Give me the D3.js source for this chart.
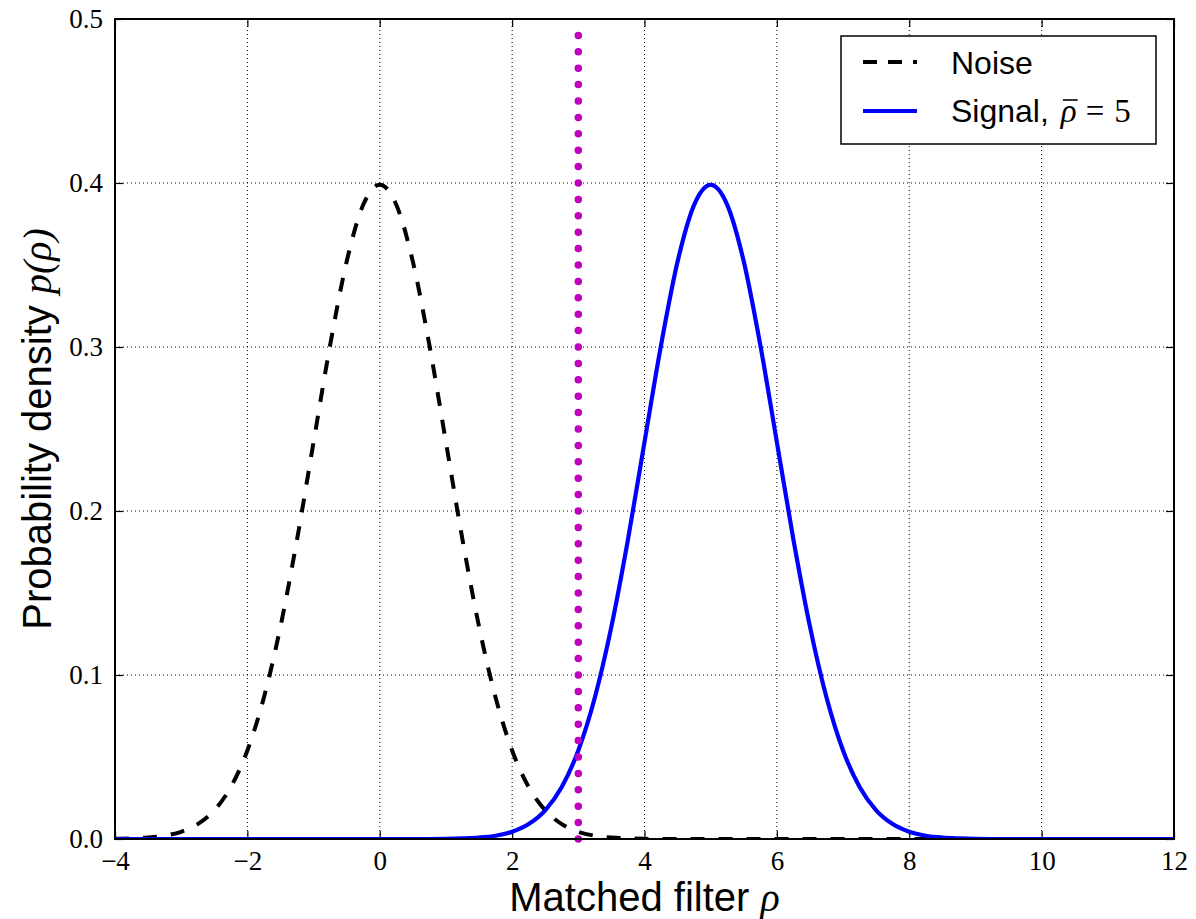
<!DOCTYPE html>
<html>
<head>
<meta charset="utf-8">
<script src="https://cdn.jsdelivr.net/npm/d3@7"></script>
<style>
  html, body { margin: 0; padding: 0; background: #fff; }
  svg { display: block; }
</style>
</head>
<body>
<svg id="chart" width="1196" height="919"></svg>
<script>
// Sample positions along the matched-filter axis (step 0.25)
const rhoValues = d3.range(65).map(i => -4 + i * 0.25);

// Noise-only density, read at each sample position
const noiseDensity = [
  0.0001, 0.0004, 0.0009, 0.0020, 0.0044, 0.0091, 0.0175, 0.0317,
  0.0540, 0.0863, 0.1295, 0.1826, 0.2420, 0.3011, 0.3521, 0.3867,
  0.3989,
  0.3867, 0.3521, 0.3011, 0.2420, 0.1826, 0.1295, 0.0863, 0.0540,
  0.0317, 0.0175, 0.0091, 0.0044, 0.0020, 0.0009, 0.0004, 0.0001,
  0, 0, 0, 0, 0, 0, 0, 0, 0, 0, 0, 0, 0, 0, 0, 0,
  0, 0, 0, 0, 0, 0, 0, 0, 0, 0, 0, 0, 0, 0, 0, 0
];

// Signal density (mean SNR 5), read at each sample position
const signalDensity = [
  0, 0, 0, 0, 0, 0, 0, 0, 0, 0, 0, 0, 0, 0, 0, 0, 0, 0, 0, 0,
  0.0001, 0.0004, 0.0009, 0.0020, 0.0044, 0.0091, 0.0175, 0.0317,
  0.0540, 0.0863, 0.1295, 0.1826, 0.2420, 0.3011, 0.3521, 0.3867,
  0.3989,
  0.3867, 0.3521, 0.3011, 0.2420, 0.1826, 0.1295, 0.0863, 0.0540,
  0.0317, 0.0175, 0.0091, 0.0044, 0.0020, 0.0009, 0.0004, 0.0001,
  0, 0, 0, 0, 0, 0, 0, 0, 0, 0, 0, 0
];

// Detection threshold marker
const thresholdRho = 3;
const thresholdTop = 0.49;

const xTicks = [-4, -2, 0, 2, 4, 6, 8, 10, 12];
const yTicks = [0.0, 0.1, 0.2, 0.3, 0.4, 0.5];

const svg = d3.select("#chart");
const margin = { left: 115, right: 22, top: 19, bottom: 80 };
const W = 1196, H = 919;
const x = d3.scaleLinear().domain([-4, 12]).range([margin.left, W - margin.right]);
const y = d3.scaleLinear().domain([0, 0.5]).range([H - margin.bottom, margin.top]);

const tickFont = "'Liberation Serif', 'DejaVu Serif', serif";
const sansFont = "'Liberation Sans', Arial, Helvetica, sans-serif";
const fmtX = d => (d < 0 ? "\u2212" + Math.abs(d) : String(d));
const fmtY = d => d.toFixed(1);

svg.append("defs").append("clipPath").attr("id", "plotClip")
  .append("rect")
  .attr("x", x(-4)).attr("y", y(0.5))
  .attr("width", x(12) - x(-4)).attr("height", y(0) - y(0.5));

// Grid lines (dotted)
const grid = svg.append("g");
grid.selectAll(".gx").data(xTicks.slice(1, -1)).join("line")
  .attr("x1", d => x(d)).attr("x2", d => x(d))
  .attr("y1", y(0)).attr("y2", y(0.5))
  .attr("stroke", "#000").attr("stroke-width", 1).attr("stroke-dasharray", "1,3");
grid.selectAll(".gy").data(yTicks.slice(1, -1)).join("line")
  .attr("y1", d => y(d)).attr("y2", d => y(d))
  .attr("x1", x(-4)).attr("x2", x(12))
  .attr("stroke", "#000").attr("stroke-width", 1).attr("stroke-dasharray", "1,3");

// Axes with inward ticks on all four sides
const tickLen = 8;
const axB = svg.append("g").attr("transform", `translate(0,${y(0)})`)
  .call(d3.axisBottom(x).tickValues(xTicks).tickFormat(fmtX).tickSizeInner(-tickLen).tickSizeOuter(0).tickPadding(12));
const axT = svg.append("g").attr("transform", `translate(0,${y(0.5)})`)
  .call(d3.axisTop(x).tickValues(xTicks).tickFormat("").tickSizeInner(-tickLen).tickSizeOuter(0));
const axL = svg.append("g").attr("transform", `translate(${x(-4)},0)`)
  .call(d3.axisLeft(y).tickValues(yTicks).tickFormat(fmtY).tickSizeInner(-tickLen).tickSizeOuter(0).tickPadding(12));
const axR = svg.append("g").attr("transform", `translate(${x(12)},0)`)
  .call(d3.axisRight(y).tickValues(yTicks).tickFormat("").tickSizeInner(-tickLen).tickSizeOuter(0));

[axB, axT, axL, axR].forEach(a => {
  a.select(".domain").remove();
  a.selectAll(".tick line").attr("stroke", "#000").attr("stroke-width", 1.2);
  a.selectAll("text").attr("fill", "#000").attr("font-family", tickFont).attr("font-size", 27);
});
axB.selectAll("text").attr("dy", "0.71em");
axL.selectAll("text").attr("dy", "0.33em");

// Curves
const line = d3.line().x(d => x(d[0])).y(d => y(d[1])).curve(d3.curveMonotoneX);
const plot = svg.append("g").attr("clip-path", "url(#plotClip)");

plot.append("path")
  .datum(rhoValues.map((r, i) => [r, noiseDensity[i]]))
  .attr("d", line)
  .attr("fill", "none").attr("stroke", "#000").attr("stroke-width", 4)
  .attr("stroke-dasharray", "14,14");

plot.append("path")
  .datum(rhoValues.map((r, i) => [r, signalDensity[i]]))
  .attr("d", line)
  .attr("fill", "none").attr("stroke", "#0000ff").attr("stroke-width", 4.2);

// Threshold (dotted magenta)
svg.append("line")
  .attr("x1", x(thresholdRho)).attr("x2", x(thresholdRho))
  .attr("y1", y(0)).attr("y2", y(thresholdTop))
  .attr("stroke", "#bf00bf").attr("stroke-width", 7.5)
  .attr("stroke-linecap", "round").attr("stroke-dasharray", "0,16.4");

// Frame
svg.append("rect")
  .attr("x", x(-4)).attr("y", y(0.5))
  .attr("width", x(12) - x(-4)).attr("height", y(0) - y(0.5))
  .attr("fill", "none").attr("stroke", "#000").attr("stroke-width", 2);

// Legend
const lg = svg.append("g");
lg.append("rect")
  .attr("x", 841).attr("y", 36).attr("width", 315).attr("height", 108)
  .attr("fill", "#fff").attr("stroke", "#000").attr("stroke-width", 1.5);
lg.append("line").attr("x1", 863).attr("x2", 917).attr("y1", 62).attr("y2", 62)
  .attr("stroke", "#000").attr("stroke-width", 4).attr("stroke-dasharray", "14,11");
lg.append("line").attr("x1", 863).attr("x2", 917).attr("y1", 111).attr("y2", 111)
  .attr("stroke", "#0000ff").attr("stroke-width", 4);
lg.append("text").attr("x", 951).attr("y", 74)
  .attr("font-family", sansFont).attr("font-size", 32).text("Noise");

// "Signal, ρ̄ = 5" — the bar over rho is drawn as its own stroke
const baseY = 122;
const sigLabel = lg.append("text").attr("x", 951).attr("y", baseY)
  .attr("font-family", sansFont).attr("font-size", 32).text("Signal,");
let cx = 951 + sigLabel.node().getComputedTextLength() + 12;
const rhoBar = lg.append("text").attr("x", cx).attr("y", baseY)
  .attr("font-family", tickFont).attr("font-style", "italic").attr("font-size", 33).text("\u03C1");
const rb = rhoBar.node().getBBox();
lg.append("line")
  .attr("x1", rb.x + 3).attr("x2", rb.x + rb.width + 1)
  .attr("y1", baseY - 22).attr("y2", baseY - 22)
  .attr("stroke", "#000").attr("stroke-width", 1.6);
cx = rb.x + rb.width + 9;
const eq = lg.append("text").attr("x", cx).attr("y", baseY)
  .attr("font-family", tickFont).attr("font-size", 33).text("=");
cx += eq.node().getComputedTextLength() + 10;
lg.append("text").attr("x", cx).attr("y", baseY)
  .attr("font-family", tickFont).attr("font-size", 33).text("5");

// Axis titles
const xl = svg.append("text").attr("x", x(4)).attr("y", 911).attr("text-anchor", "middle")
  .attr("font-family", sansFont).attr("font-size", 40);
xl.append("tspan").text("Matched filter ");
xl.append("tspan").attr("font-family", tickFont).attr("font-style", "italic").text("\u03C1");

const yl = svg.append("text")
  .attr("transform", `translate(51,${y(0.25)}) rotate(-90)`)
  .attr("text-anchor", "middle")
  .attr("font-family", sansFont).attr("font-size", 40);
yl.append("tspan").text("Probability density ");
yl.append("tspan").attr("font-family", tickFont).attr("font-style", "italic").text("p(\u03C1)");
</script>
</body>
</html>
